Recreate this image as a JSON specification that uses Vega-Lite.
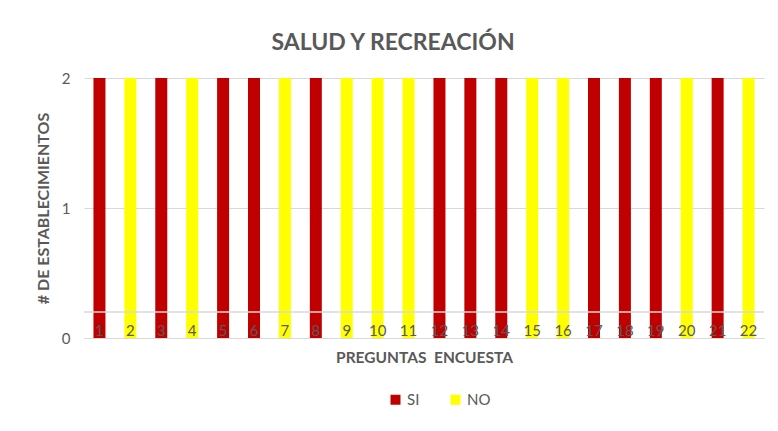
{
  "$schema": "https://vega.github.io/schema/vega-lite/v6.json",
  "width": 680,
  "height": 260,
  "autosize": {"type": "none"},
  "padding": {"left": 84, "top": 78, "right": 14, "bottom": 93},
  "background": "white",
  "title": {
    "text": "SALUD Y RECREACIÓN",
    "font": "Lato",
    "fontSize": 23,
    "fontWeight": "bold",
    "color": "#595959",
    "anchor": "middle",
    "dx": -31,
    "offset": 16
  },
  "config": {
    "view": {"stroke": null},
    "font": "Lato"
  },
  "layer": [
    {
      "data": {
        "values": [
          {"pregunta": "1", "respuesta": "SI", "valor": 2},
          {"pregunta": "2", "respuesta": "NO", "valor": 2},
          {"pregunta": "3", "respuesta": "SI", "valor": 2},
          {"pregunta": "4", "respuesta": "NO", "valor": 2},
          {"pregunta": "5", "respuesta": "SI", "valor": 2},
          {"pregunta": "6", "respuesta": "SI", "valor": 2},
          {"pregunta": "7", "respuesta": "NO", "valor": 2},
          {"pregunta": "8", "respuesta": "SI", "valor": 2},
          {"pregunta": "9", "respuesta": "NO", "valor": 2},
          {"pregunta": "10", "respuesta": "NO", "valor": 2},
          {"pregunta": "11", "respuesta": "NO", "valor": 2},
          {"pregunta": "12", "respuesta": "SI", "valor": 2},
          {"pregunta": "13", "respuesta": "SI", "valor": 2},
          {"pregunta": "14", "respuesta": "SI", "valor": 2},
          {"pregunta": "15", "respuesta": "NO", "valor": 2},
          {"pregunta": "16", "respuesta": "NO", "valor": 2},
          {"pregunta": "17", "respuesta": "SI", "valor": 2},
          {"pregunta": "18", "respuesta": "SI", "valor": 2},
          {"pregunta": "19", "respuesta": "SI", "valor": 2},
          {"pregunta": "20", "respuesta": "NO", "valor": 2},
          {"pregunta": "21", "respuesta": "SI", "valor": 2},
          {"pregunta": "22", "respuesta": "NO", "valor": 2}
        ]
      },
      "mark": {"type": "bar", "width": 12},
      "encoding": {
        "x": {
          "field": "pregunta",
          "type": "ordinal",
          "sort": null,
          "title": "PREGUNTAS\u00a0\u00a0ENCUESTA",
          "axis": {
            "labelAngle": 0,
            "labelFontSize": 15,
            "labelColor": "#595959",
            "labelPadding": -15,
            "ticks": false,
            "domainColor": "#d9d9d9",
            "domainWidth": 1,
            "titleFontSize": 15.5,
            "titleFontWeight": "bold",
            "titleColor": "#595959",
            "titlePadding": 12,
            "zindex": 1
          }
        },
        "y": {
          "field": "valor",
          "type": "quantitative",
          "scale": {"domain": [0, 2], "nice": false},
          "title": "# DE ESTABLECIMIENTOS",
          "axis": {
            "tickCount": 2,
            "domain": false,
            "ticks": false,
            "labelFontSize": 15,
            "labelColor": "#595959",
            "labelPadding": 14,
            "labelOverlap": false,
            "gridColor": "#d9d9d9",
            "titleFontSize": 16,
            "titleFontWeight": "bold",
            "titleColor": "#595959",
            "titlePadding": 10
          }
        },
        "color": {
          "field": "respuesta",
          "type": "nominal",
          "scale": {"domain": ["SI", "NO"], "range": ["#C00000", "#FFFF00"]},
          "legend": {
            "title": null,
            "orient": "none",
            "direction": "horizontal",
            "legendX": 304,
            "legendY": 314,
            "symbolType": "square",
            "symbolSize": 100,
            "symbolStrokeWidth": 0,
            "labelFontSize": 15,
            "labelColor": "#595959",
            "columnPadding": 28
          }
        }
      }
    },
    {
      "data": {"values": [{"nivel": 0.2}]},
      "mark": {"type": "rule", "color": "#d9d9d9", "strokeWidth": 1.5},
      "encoding": {
        "y": {
          "field": "nivel",
          "type": "quantitative"
        }
      }
    }
  ]
}
